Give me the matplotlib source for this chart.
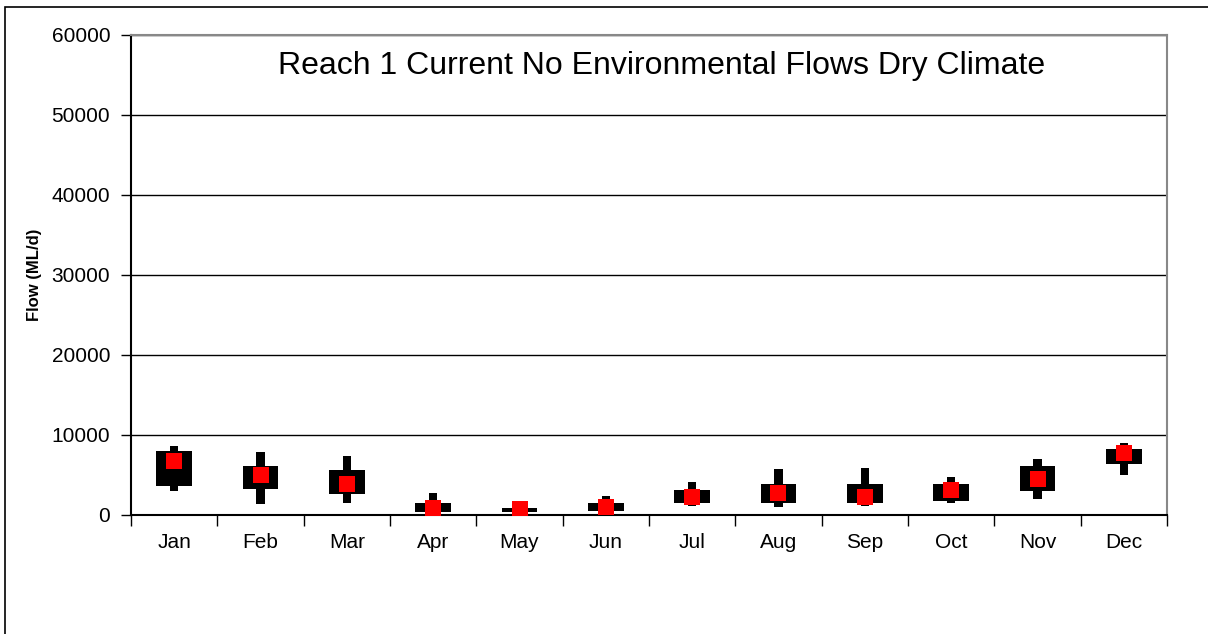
import matplotlib
matplotlib.use("Agg")
import matplotlib.pyplot as plt
from matplotlib.patches import Rectangle
import numpy as np

months = ["Jan", "Feb", "Mar", "Apr", "May", "Jun", "Jul", "Aug", "Sep", "Oct", "Nov", "Dec"]
whisker_low = [2960, 1330, 1460, 0, 330, 0, 1170, 960, 1170, 1500, 1960, 5040]
box_low = [3625, 3200, 2625, 330, 330, 500, 1460, 1460, 1460, 1790, 2960, 6375]
box_high = [8040, 6125, 5625, 1460, 830, 1460, 3080, 3875, 3875, 3875, 6080, 8290]
whisker_high = [8660, 7830, 7420, 2710, 830, 2420, 4170, 5790, 5920, 4790, 7040, 8960]
median = [6790, 5000, 3875, 830, 710, 960, 2210, 2710, 2290, 3125, 4540, 7710]
title = "Reach 1 Current No Environmental Flows Dry Climate"
ylabel = "Flow (ML/d)"
yticks = [0, 10000, 20000, 30000, 40000, 50000, 60000]

plt.rcParams['font.family'] = ['Liberation Sans', 'DejaVu Sans']
W, H = 1208, 634
fig = plt.figure(figsize=(W / 100, H / 100), dpi=100)
fig.patch.set_facecolor("white")

# outer frame
fig.add_artist(Rectangle((5 / W, -0.1), 1.2, 1 - 7 / H + 0.1, transform=fig.transFigure,
                         fill=False, edgecolor="black", linewidth=1.2))

ax = fig.add_axes([131 / W, 1 - 515 / H, (1167 - 131) / W, (515 - 35) / H])
x = np.arange(len(months))

wl = np.array(whisker_low); wh = np.array(whisker_high)
bl = np.array(box_low); bh = np.array(box_high)
ax.bar(x, wh - wl, bottom=wl, width=0.095, color="black", zorder=3)
ax.bar(x, bh - bl, bottom=bl, width=0.415, color="black", zorder=3)
ax.plot(x, median, linestyle="none", marker="s", markersize=11, color="#ff0000",
        markeredgewidth=0, zorder=4)

ax.set_xlim(-0.5, 11.5)
ax.set_ylim(0, 60000)
ax.set_yticks(yticks)
ax.set_yticklabels([str(v) for v in yticks], fontsize=15)
ax.yaxis.grid(True, color="black", linewidth=1)
ax.set_axisbelow(True)

ax.set_xticks(x)
ax.set_xticklabels(months, fontsize=15)
ax.set_xticks(np.arange(-0.5, 12, 1), minor=True)
ax.tick_params(axis="x", which="major", length=0, pad=13)
ax.tick_params(axis="x", which="minor", length=8, direction="out", width=1)
ax.tick_params(axis="y", length=7, direction="out", width=1, pad=8)

for s in ["left", "bottom"]:
    ax.spines[s].set_color("black")
    ax.spines[s].set_linewidth(1.5)
for s in ["top", "right"]:
    ax.spines[s].set_color("#888888")
    ax.spines[s].set_linewidth(1.5)

ax.set_ylabel(ylabel, fontsize=12, fontweight="bold", labelpad=7)
ax.text(0.512, 0.935, title, transform=ax.transAxes, ha="center", va="center", fontsize=23)

fig.savefig("out.png", dpi=100)
